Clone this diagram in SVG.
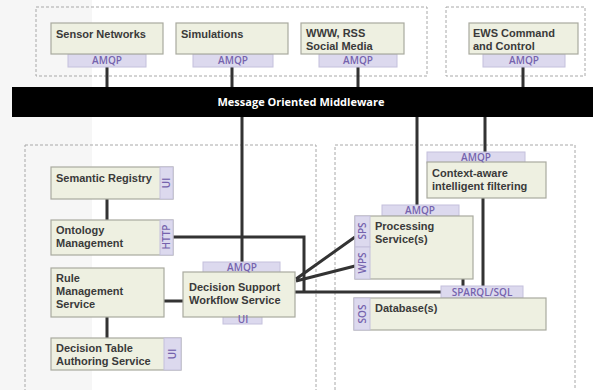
<svg xmlns="http://www.w3.org/2000/svg" width="593" height="390" viewBox="0 0 593 390">
<style>
.grp{fill:none;stroke:#a8a8a8;stroke-width:1;stroke-dasharray:3 2}
.box{fill:#eef0e1;stroke:#a9aa9f;stroke-width:1.2}
.tab{fill:#dcd9ee;stroke:#c4c0dc;stroke-width:1}
.t{font-family:"Liberation Sans",Arial,sans-serif;font-size:11px;font-weight:700;fill:#3a3a3a}
.tl{font-family:"Open Sans","Liberation Sans",sans-serif;font-size:10px;font-weight:600;fill:#7563ad;text-anchor:middle}
.ln{fill:none;stroke:#333;stroke-width:3}
</style>
<rect x="0" y="0" width="593" height="390" fill="#fff"/>
<rect x="0" y="0" width="92" height="390" fill="#f6f6f6"/>
<g id="groups">
<rect class="grp" x="36" y="7" width="391" height="69"/>
<rect class="grp" x="446" y="7" width="139" height="69"/>
<rect class="grp" x="25" y="145" width="291" height="250"/>
<rect class="grp" x="335" y="145" width="240" height="250"/>
</g>
<g id="connectors">
<path class="ln" d="M107 67V88M232 67V88M358 67V88M523 67V88"/>
<path class="ln" d="M242 116V262M417 116V205M485 116V152"/>
<path class="ln" d="M483 198V286M463 279V286"/>
<path class="ln" d="M107 199V220M107 317V338M164 301H183"/>
<path class="ln" d="M173 237H304V292M295 292H441"/>
<path class="ln" d="M296 279L355 237M296 281L355 266"/>
</g>
<g id="mom">
<rect x="12" y="87" width="581" height="30" fill="#000"/>
<text x="301" y="106" font-family="'Open Sans','Liberation Sans',sans-serif" font-size="11" font-weight="700" fill="#fff" text-anchor="middle">Message Oriented Middleware</text>
</g>
<g id="sensor">
<rect class="tab" x="68" y="54" width="78" height="13"/>
<rect class="box" x="51" y="23" width="112" height="31"/>
<text class="t" x="56" y="38">Sensor Networks</text>
<text class="tl" x="107" y="64">AMQP</text>
</g>
<g id="simulations">
<rect class="tab" x="193" y="54" width="80" height="13"/>
<rect class="box" x="176" y="23" width="112" height="31"/>
<text class="t" x="181" y="38">Simulations</text>
<text class="tl" x="233" y="64">AMQP</text>
</g>
<g id="www">
<rect class="tab" x="319" y="54" width="78" height="13"/>
<rect class="box" x="301" y="23" width="103" height="31"/>
<text class="t" x="306" y="37">WWW, RSS</text>
<text class="t" x="306" y="50">Social Media</text>
<text class="tl" x="358" y="64">AMQP</text>
</g>
<g id="ews">
<rect class="tab" x="483" y="54" width="82" height="13"/>
<rect class="box" x="469" y="23" width="109" height="31"/>
<text class="t" x="473" y="37">EWS Command</text>
<text class="t" x="473" y="50">and Control</text>
<text class="tl" x="524" y="64">AMQP</text>
</g>
<g id="semantic-registry">
<rect class="box" x="51" y="167" width="122" height="32"/>
<rect class="tab" x="160" y="167" width="13" height="32"/>
<text class="t" x="56" y="182">Semantic Registry</text>
<text class="tl" transform="translate(170 183) rotate(-90)">UI</text>
</g>
<g id="ontology">
<rect class="box" x="51" y="220" width="122" height="35"/>
<rect class="tab" x="160" y="220" width="13" height="35"/>
<text class="t" x="56" y="234">Ontology</text>
<text class="t" x="56" y="247">Management</text>
<text class="tl" transform="translate(170 237) rotate(-90)">HTTP</text>
</g>
<g id="rule">
<rect class="box" x="51" y="268" width="113" height="49"/>
<text class="t" x="56" y="282">Rule</text>
<text class="t" x="56" y="295">Management</text>
<text class="t" x="56" y="308">Service</text>
</g>
<g id="decision-table">
<rect class="box" x="51" y="338" width="130" height="32"/>
<rect class="tab" x="164" y="338" width="17" height="32"/>
<text class="t" x="56" y="352">Decision Table</text>
<text class="t" x="56" y="365">Authoring Service</text>
<text class="tl" transform="translate(176 354) rotate(-90)">UI</text>
</g>
<g id="decision-support">
<rect class="tab" x="203" y="262" width="77" height="11"/>
<rect class="tab" x="223" y="316" width="39" height="8"/>
<rect class="box" x="183" y="272" width="112" height="45"/>
<text class="tl" x="242" y="271">AMQP</text>
<text class="t" x="189" y="291">Decision Support</text>
<text class="t" x="189" y="304">Workflow Service</text>
<text class="tl" x="243" y="323">UI</text>
</g>
<g id="context-filtering">
<rect class="tab" x="427" y="152" width="98" height="11"/>
<rect class="box" x="427" y="162" width="119" height="36"/>
<text class="tl" x="476" y="161">AMQP</text>
<text class="t" x="432" y="177">Context-aware</text>
<text class="t" x="432" y="190">intelligent filtering</text>
</g>
<g id="processing">
<rect class="tab" x="382" y="205" width="77" height="11"/>
<rect class="box" x="355" y="216" width="118" height="63"/>
<rect class="tab" x="355" y="216" width="15" height="31"/>
<rect class="tab" x="355" y="247" width="15" height="32"/>
<text class="tl" x="420" y="214">AMQP</text>
<text class="t" x="375" y="230">Processing</text>
<text class="t" x="375" y="243">Service(s)</text>
<text class="tl" transform="translate(366 231) rotate(-90)">SPS</text>
<text class="tl" transform="translate(366 263) rotate(-90)">WPS</text>
</g>
<g id="database">
<rect class="tab" x="441" y="286" width="82" height="12"/>
<rect class="box" x="354" y="298" width="192" height="32"/>
<rect class="tab" x="354" y="298" width="16" height="32"/>
<text class="tl" x="482" y="296">SPARQL/SQL</text>
<text class="t" x="375" y="312">Database(s)</text>
<text class="tl" transform="translate(366 314) rotate(-90)">SOS</text>
</g>
</svg>
